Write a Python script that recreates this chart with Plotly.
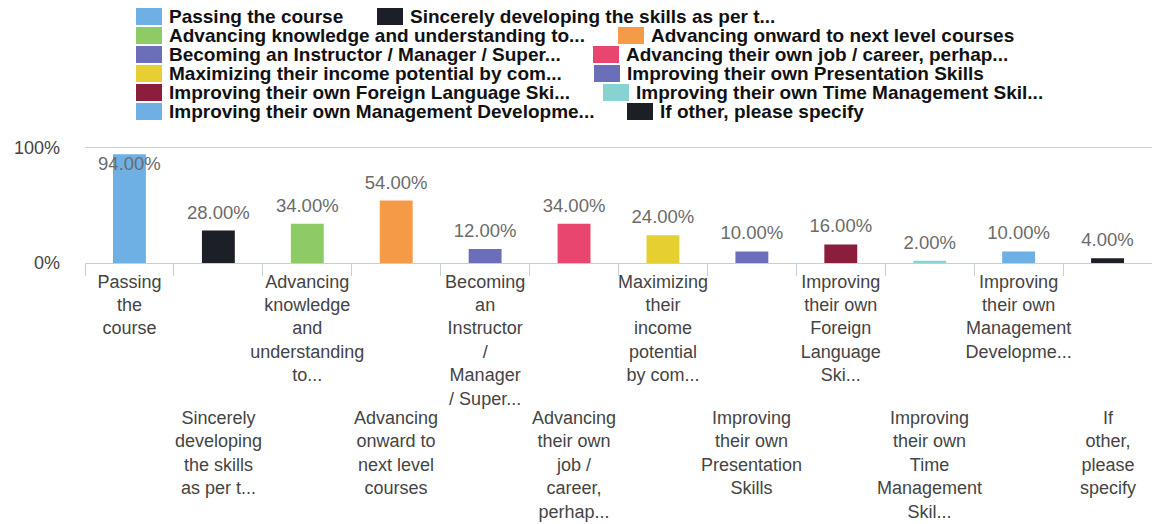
import plotly.graph_objects as go

# ---- data ----
categories = [
    "Passing the course",
    "Sincerely developing the skills as per t...",
    "Advancing knowledge and understanding to...",
    "Advancing onward to next level courses",
    "Becoming an Instructor / Manager / Super...",
    "Advancing their own job / career, perhap...",
    "Maximizing their income potential by com...",
    "Improving their own Presentation Skills",
    "Improving their own Foreign Language Ski...",
    "Improving their own Time Management Skil...",
    "Improving their own Management Developme...",
    "If other, please specify",
]
values = [94, 28, 34, 54, 12, 34, 24, 10, 16, 2, 10, 4]
tick_lines = [
    ["Passing", "the", "course"],
    ["Sincerely", "developing", "the skills", "as per t..."],
    ["Advancing", "knowledge", "and", "understanding", "to..."],
    ["Advancing", "onward to", "next level", "courses"],
    ["Becoming", "an", "Instructor", "/", "Manager", "/ Super..."],
    ["Advancing", "their own", "job /", "career,", "perhap..."],
    ["Maximizing", "their", "income", "potential", "by com..."],
    ["Improving", "their own", "Presentation", "Skills"],
    ["Improving", "their own", "Foreign", "Language", "Ski..."],
    ["Improving", "their own", "Time", "Management", "Skil..."],
    ["Improving", "their own", "Management", "Developme..."],
    ["If", "other,", "please", "specify"],
]
colors = ["#6fb0e4", "#1d1f27", "#8dcb64", "#f59b48", "#6b6eb8", "#e8456f",
          "#e6cf30", "#6b6eb8", "#8b1e3c", "#88d2d2", "#6fb0e4", "#1d1f27"]
y_tick_vals = [0, 100]
y_tick_text = ["0%", "100%"]

# ---- layout constants ----
W, H = 1152, 524
ML, MR = 85, 0
MT = 145
MB = H - 263
PW, PH = W - ML - MR, H - MT - MB
FONT = "Liberation Sans, Arial, sans-serif"
Y_MAX = 102
LABEL_OFFSET = 6.4   # value units above the bar top
LABEL_MAX = 76.5     # labels are kept inside the plot area
LOW_LABEL_TOP = 406  # px, top of the staggered second row of category labels


def px_x(px):
    return (px - ML) / PW


def px_y(py):
    return (H - MB - py) / PH


n = len(categories)
wrapped = ["<br>".join(lines) for lines in tick_lines]
top_text = [t if i % 2 == 0 else "" for i, t in enumerate(wrapped)]

fig = go.Figure()
for cat, v, c in zip(categories, values, colors):
    fig.add_trace(go.Bar(
        x=[cat], y=[v], name=cat, marker=dict(color=c, line=dict(width=0)),
        width=0.37, showlegend=False, hoverinfo="skip",
    ))

label_y = [min(v + LABEL_OFFSET, LABEL_MAX) for v in values]
fig.add_trace(go.Scatter(
    x=categories, y=label_y, mode="text",
    text=[f"{v:.2f}%" for v in values], textposition="top center",
    textfont=dict(size=18.5, color="#6b6b6b", family=FONT),
    cliponaxis=False, showlegend=False, hoverinfo="skip",
))

tick_font = dict(size=18, color="#444444", family=FONT)

# manual legend (two entries per row)
row_y0 = 16.5
row_step = 19
col2_x = [377, 618, 593, 594, 603, 627]
shapes = []
annotations = []
for i, (cat, c) in enumerate(zip(categories, colors)):
    row, col = divmod(i, 2)
    cy = row_y0 + row * row_step
    sx = 136 if col == 0 else col2_x[row]
    shapes.append(dict(type="rect", xref="paper", yref="paper",
                       x0=px_x(sx), x1=px_x(sx + 26),
                       y0=px_y(cy + 8.5), y1=px_y(cy - 8.5),
                       fillcolor=c, line=dict(width=0), layer="above"))
    annotations.append(dict(x=px_x(sx + 31), y=px_y(cy), xref="paper", yref="paper",
                            text=cat, showarrow=False, xanchor="left", yanchor="middle",
                            font=dict(size=19, color="#111111", family=FONT, weight="bold")))

# staggered second row of category labels
for i, cat in enumerate(categories):
    if i % 2 == 1:
        annotations.append(dict(x=cat, xref="x", y=px_y(LOW_LABEL_TOP), yref="paper",
                                text=wrapped[i], showarrow=False,
                                xanchor="center", yanchor="top", align="center",
                                font=tick_font))

fig.update_layout(
    width=W, height=H,
    margin=dict(l=ML, r=MR, t=MT, b=MB, autoexpand=False),
    paper_bgcolor="white", plot_bgcolor="white",
    font=dict(family=FONT),
    barmode="overlay",
    hovermode=False,
    shapes=shapes,
    annotations=annotations,
    xaxis=dict(
        type="category",
        categoryorder="array", categoryarray=categories,
        tickmode="array", tickvals=categories, ticktext=top_text,
        tickson="boundaries", ticks="outside", ticklen=12,
        tickcolor="#c6ced8", tickwidth=1,
        showline=True, linecolor="#c6ced8", linewidth=1,
        showgrid=False, zeroline=False,
        tickangle=0, automargin=False, ticklabelstandoff=2,
        tickfont=tick_font,
        range=[-0.5, n - 0.5],
    ),
    yaxis=dict(
        range=[0, Y_MAX],
        tickmode="array", tickvals=y_tick_vals, ticktext=y_tick_text,
        showgrid=True, gridcolor="#cfcfcf", gridwidth=1,
        zeroline=False, showline=False, ticks="",
        ticklabelstandoff=24, automargin=False,
        tickfont=tick_font,
    ),
)

fig.write_html("out.html", config={"displayModeBar": False},
               post_script="document.body.style.margin='0px';")
